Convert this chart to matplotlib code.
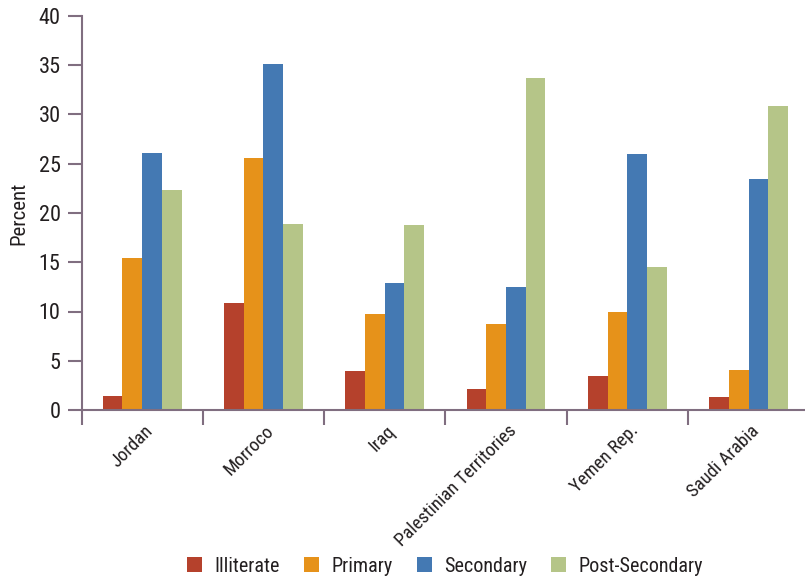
import matplotlib
matplotlib.use("Agg")
import matplotlib.pyplot as plt
import matplotlib.transforms as mtransforms
from matplotlib import font_manager
import numpy as np
from matplotlib.patches import Patch

categories = ["Jordan", "Morroco", "Iraq", "Palestinian Territories", "Yemen Rep.", "Saudi Arabia"]
series_names = ["Illiterate", "Primary", "Secondary", "Post-Secondary"]
illiterate = [1.4, 10.9, 4.0, 2.1, 3.5, 1.3]
primary = [15.4, 25.6, 9.7, 8.7, 10.0, 4.1]
secondary = [26.1, 35.1, 12.9, 12.5, 26.0, 23.5]
post_secondary = [22.3, 18.9, 18.8, 33.7, 14.5, 30.9]
colors = ["#B5412C", "#E6921A", "#4479B3", "#B5C588"]
yticks = [0, 5, 10, 15, 20, 25, 30, 35, 40]

# prefer a condensed face (the reference uses a condensed sans)
installed = {f.name for f in font_manager.fontManager.ttflist}
fam, stretch = 'DejaVu Sans', 'condensed'
for cand in ['Roboto Condensed', 'Open Sans Condensed', 'Liberation Sans Narrow', 'Arial Narrow']:
    if cand in installed:
        fam, stretch = cand, 'normal'
        break
plt.rcParams['font.family'] = [fam, 'DejaVu Sans']
plt.rcParams['font.stretch'] = stretch

axis_color = "#806E80"
text_color = "#231F20"

fig = plt.figure(figsize=(8.05, 5.8), dpi=100)
ax = fig.add_axes([81.5/805, 1-410/580, 723.5/805, 394/580])

data = [illiterate, primary, secondary, post_secondary]
n = len(series_names)
w = 0.1625
x = np.arange(len(categories))
for i, (vals, c) in enumerate(zip(data, colors)):
    ax.bar(x + (i - (n-1)/2) * w, vals, width=w, color=c, label=series_names[i], linewidth=0)

ax.set_xlim(-0.5, -0.5 + 723.5/121.3)
ax.set_ylim(0, 40)
ax.set_yticks(yticks)
ax.set_yticklabels([str(t) for t in yticks], fontsize=16, color=text_color)

ax.set_xticks(x)
ax.set_xticklabels(categories, rotation=45, ha='right', va='center', rotation_mode='anchor',
                   fontsize=13.5, color=text_color)
ax.tick_params(axis='x', which='major', length=0, pad=13)
offset = mtransforms.ScaledTranslation(8/100, 0, fig.dpi_scale_trans)
for lab in ax.get_xticklabels():
    lab.set_transform(lab.get_transform() + offset)
ax.set_xticks(np.arange(-0.5, len(categories) - 0.5, 1.0), minor=True)
ax.tick_params(axis='x', which='minor', length=11, width=1.5, color=axis_color, direction='out')
ax.tick_params(axis='y', length=10, width=1.5, color=axis_color, direction='out', pad=5)

for s in ['top', 'right']:
    ax.spines[s].set_visible(False)
for s in ['left', 'bottom']:
    ax.spines[s].set_color(axis_color)
    ax.spines[s].set_linewidth(1.5)

ax.set_ylabel("Percent", fontsize=15, color=text_color, labelpad=7)

handles = [Patch(facecolor=c, edgecolor='none', label=l) for c, l in zip(colors, series_names)]
fig.legend(handles=handles, loc='center', bbox_to_anchor=(445/805, 1-566/580), ncol=4,
           frameon=False, fontsize=14.5, handlelength=0.75, handleheight=0.75,
           handletextpad=0.6, columnspacing=1.2, labelcolor=text_color)

fig.savefig("out.png", dpi=100)
